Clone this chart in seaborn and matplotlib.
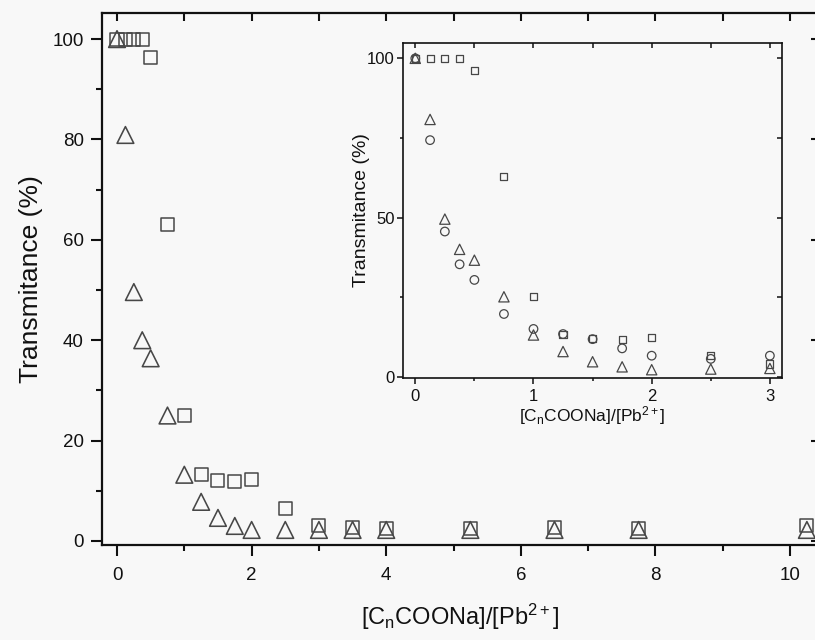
import numpy as np
import pandas as pd
import matplotlib
matplotlib.use("Agg")
import matplotlib.pyplot as plt
from matplotlib.ticker import MultipleLocator
import seaborn as sns

# ---------------- data ----------------
main_x = [0, 0.125, 0.25, 0.375, 0.5, 0.75, 1, 1.25, 1.5, 1.75, 2, 2.5, 3, 3.5, 4, 5.25, 6.5, 7.75, 10.25]
main_square = [100, 100, 100, 100, 96.3, 63, 25, 13.3, 12.0, 11.8, 12.2, 6.4, 3.0, 2.7, 2.5, 2.4, 2.6, 2.5, 3.0]
main_triangle = [100, 80.9, 49.6, 40.0, 36.4, 25.0, 13.2, 7.8, 4.6, 3.0, 2.2, 2.2, 2.2, 2.2, 2.2, 2.2, 2.2, 2.2, 2.2]

inset_x = [0, 0.125, 0.25, 0.375, 0.5, 0.75, 1, 1.25, 1.5, 1.75, 2, 2.5, 3]
inset_square = [100, 100, 100, 100, 96.1, 62.8, 25.1, 13.4, 12.0, 11.8, 12.2, 6.8, 4.0]
inset_triangle = [100, 80.8, 49.5, 40.0, 36.6, 25.1, 13.1, 7.9, 4.7, 3.1, 2.2, 2.4, 2.6]
inset_circle = [100, 74.3, 45.6, 35.3, 30.4, 19.7, 15.0, 13.4, 11.8, 8.9, 6.6, 5.6, 6.6]

xlabel = r"$\mathregular{[C_nCOONa]/[Pb^{2+}]}$"
ylabel = "Transmitance (%)"

# ---------------- style ----------------
sns.set_theme(style="ticks")
plt.rcParams["font.family"] = ["Liberation Sans", "DejaVu Sans"]
plt.rcParams["mathtext.fontset"] = "custom"
plt.rcParams["mathtext.rm"] = "Liberation Sans"
plt.rcParams["mathtext.it"] = "Liberation Sans"

bg = "#f8f8f8"
ink = "#111111"
mk = "#474747"

fig = plt.figure(figsize=(8.15, 6.4), dpi=100, facecolor=bg)

# ---------------- main axes ----------------
ax = fig.add_axes([102 / 815, 1 - 545 / 640, (819 - 102) / 815, (545 - 13) / 640])
ax.set_facecolor(bg)
df_main = pd.DataFrame({"x": main_x, "sq": main_square, "tri": main_triangle})
sns.scatterplot(data=df_main, x="x", y="sq", marker="s", s=88, facecolor="none",
                edgecolor=mk, linewidth=1.1, ax=ax, zorder=3)
sns.scatterplot(data=df_main, x="x", y="tri", marker="^", s=145, facecolor="none",
                edgecolor=mk, linewidth=1.15, ax=ax, zorder=4)
ax.set_xlim(-0.223, 10.43)
ax.set_ylim(-0.8, 105.2)
ax.xaxis.set_major_locator(MultipleLocator(2))
ax.xaxis.set_minor_locator(MultipleLocator(1))
ax.yaxis.set_major_locator(MultipleLocator(20))
ax.yaxis.set_minor_locator(MultipleLocator(10))
for sp in ax.spines.values():
    sp.set_linewidth(1.6)
    sp.set_color(ink)
ax.tick_params(which="major", direction="out", length=8, width=1.5, labelsize=13.5,
               colors=ink, pad=5)
ax.tick_params(which="minor", direction="out", length=4.5, width=1.5, colors=ink)
ax.tick_params(axis="x", which="major", pad=8)
ax.set_xlabel(xlabel, fontsize=17, color=ink, labelpad=13)
ax.set_ylabel(ylabel, fontsize=19, color=ink, labelpad=7)

top = ax.secondary_xaxis("top")
top.xaxis.set_major_locator(MultipleLocator(1))
top.tick_params(direction="in", length=6, width=1.5, labeltop=False, colors=ink)
right = ax.secondary_yaxis("right")
right.yaxis.set_major_locator(MultipleLocator(20))
right.tick_params(direction="in", length=6, width=1.5, labelright=False, colors=ink)

# ---------------- inset axes ----------------
ins = fig.add_axes([403 / 815, 1 - 378.3 / 640, (781.7 - 403) / 815, (378.3 - 42.7) / 640])
ins.set_facecolor(bg)
df_in = pd.DataFrame({"x": inset_x, "sq": inset_square, "tri": inset_triangle, "ci": inset_circle})
sns.scatterplot(data=df_in, x="x", y="sq", marker="s", s=26, facecolor="none",
                edgecolor=mk, linewidth=0.9, ax=ins, zorder=3)
sns.scatterplot(data=df_in, x="x", y="ci", marker="o", s=38, facecolor="none",
                edgecolor=mk, linewidth=0.9, ax=ins, zorder=3)
sns.scatterplot(data=df_in, x="x", y="tri", marker="^", s=55, facecolor="none",
                edgecolor=mk, linewidth=0.9, ax=ins, zorder=4)
ins.set_xlim(-0.104, 3.10)
ins.set_ylim(-0.5, 104.9)
ins.xaxis.set_major_locator(MultipleLocator(1))
ins.xaxis.set_minor_locator(MultipleLocator(0.5))
ins.yaxis.set_major_locator(MultipleLocator(50))
ins.yaxis.set_minor_locator(MultipleLocator(25))
for sp in ins.spines.values():
    sp.set_linewidth(1.2)
    sp.set_color(ink)
ins.tick_params(which="major", direction="out", length=4.5, width=1.1, labelsize=12,
                colors=ink, pad=3)
ins.tick_params(axis="y", which="major", pad=1.5)
ins.tick_params(which="minor", direction="out", length=2.5, width=1.1, colors=ink)
ins.set_xlabel(xlabel, fontsize=12.5, color=ink, labelpad=0)
ins.set_ylabel(ylabel, fontsize=14, color=ink, labelpad=-2)

itop = ins.secondary_xaxis("top")
itop.xaxis.set_major_locator(MultipleLocator(0.5))
itop.tick_params(direction="in", length=3.5, width=1.1, labeltop=False, colors=ink)
iright = ins.secondary_yaxis("right")
iright.yaxis.set_major_locator(MultipleLocator(25))
iright.tick_params(direction="in", length=3.5, width=1.1, labelright=False, colors=ink)
for s in (itop, iright, top, right):
    for sp in s.spines.values():
        sp.set_visible(False)

fig.savefig("out.png", dpi=100, facecolor=bg)
